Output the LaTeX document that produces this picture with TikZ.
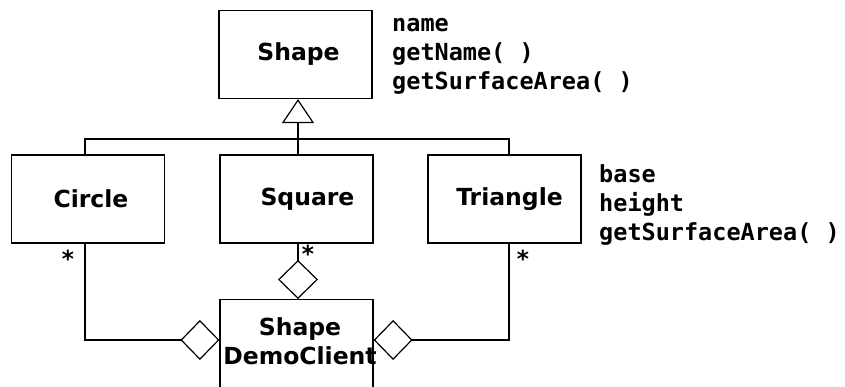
\documentclass[tikz,border=0pt]{standalone}
\usepackage{fontspec}
\setmainfont{DejaVu Sans}
\newfontfamily\attrfont{DejaVu Sans Mono}
\usetikzlibrary{arrows.meta}
\begin{document}
\begin{tikzpicture}[x=1pt,y=-1pt,
  cls/.style={draw, line width=1.2pt, minimum width=153pt, minimum height=88pt,
    inner sep=0pt, font=\fontsize{23.5}{29}\selectfont\bfseries},
  link/.style={line width=2pt},
  inherit/.style={-{Triangle[open, length=24pt, width=32pt, line width=1.2pt]}},
  agg/.style={-{Diamond[open, length=39pt, width=40pt, line width=1.2pt]}},
  attr/.style={font=\attrfont\fontsize{23.5}{29}\selectfont\bfseries,
    align=left, inner sep=0pt, anchor=base west},
  mult/.style={font=\attrfont\fontsize{23.5}{29}\selectfont\bfseries,
    inner sep=0pt, anchor=base}]
\path[use as bounding box, clip] (0,0) rectangle (845,386);

% classes
\node[cls] (shape) at (295.5,54.5) {\hspace*{6pt}Shape};
\node[cls] (circle) at (88,199) {\hspace*{6pt}Circle};
\node[cls] (square) at (296.5,199) {\hspace*{22pt}Square};
\node[cls] (triangle) at (504.5,199) {\hspace*{10pt}Triangle};
\node[cls, minimum height=110pt, anchor=north] (client) at (296.5,299) {};
\node[font=\fontsize{23.5}{29}\selectfont\bfseries, align=center, inner sep=0pt]
  (clientname) at (300,341) {Shape\\DemoClient};

% attribute and operation lists (placed by the baseline of their last line)
\node[attr] (shapeattr) at (392,89) {name\\getName( )\\getSurfaceArea( )};
\node[attr] (triattr) at (599,240) {base\\height\\getSurfaceArea( )};

% inheritance tree
\coordinate (bus) at (298,139);
\draw[link] ([xshift=-3pt]circle.north) |- (bus) -| ([xshift=4.5pt]triangle.north);
\draw[link, inherit] ([xshift=1.5pt]square.north) -- ([xshift=2.5pt]shape.south);

% aggregations
\coordinate (clientW) at ([yshift=-41pt]client.north west);
\coordinate (clientE) at ([yshift=-41pt]client.north east);
\draw[link, agg] ([xshift=1.5pt]square.south) -- ([xshift=1.5pt]client.north);
\draw[link, agg] ([xshift=-3pt]circle.south) |- (clientW);
\draw[link, agg] ([xshift=4.5pt]triangle.south) |- (clientE);

% multiplicities
\node[mult] (mcircle) at (68,267) {*};
\node[mult] (msquare) at (308,262) {*};
\node[mult] (mtriangle) at (523,267) {*};
\end{tikzpicture}
\end{document}
